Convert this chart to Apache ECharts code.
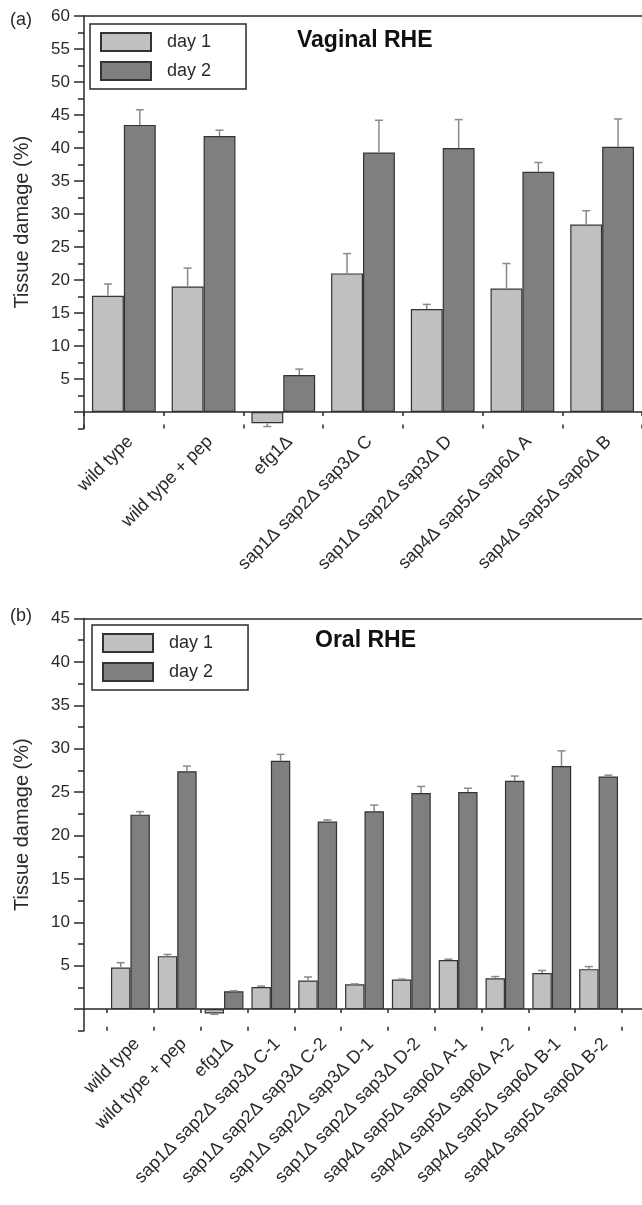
<!DOCTYPE html>
<html>
<head>
<meta charset="utf-8">
<script src="https://cdn.jsdelivr.net/npm/echarts/dist/echarts.min.js"></script>
<style>
  html, body { margin: 0; padding: 0; background: #fff; }
  #chart { width: 642px; height: 1205px; }
</style>
</head>
<body>
<div id="chart"></div>
<script>
// panel (a) - vaginal RHE
var catsA = ['wild type', 'wild type + pep', 'efg1Δ', 'sap1Δ sap2Δ sap3Δ C', 'sap1Δ sap2Δ sap3Δ D', 'sap4Δ sap5Δ sap6Δ A', 'sap4Δ sap5Δ sap6Δ B'];
var day1A = [17.6, 19.0, -1.7, 21.0, 15.6, 18.7, 28.4];
var day1ErrA = [1.8, 2.8, 0.5, 3.0, 0.7, 3.8, 2.1];
var day2A = [43.5, 41.8, 5.6, 39.3, 40.0, 36.4, 40.2];
var day2ErrA = [2.3, 0.9, 0.9, 4.9, 4.3, 1.4, 4.2];
var majorA = [0, 5, 10, 15, 20, 25, 30, 35, 40, 45, 50, 55, 60];
var minorA = [-2.5, 2.5, 7.5, 12.5, 17.5, 22.5, 27.5, 32.5, 37.5, 42.5, 47.5, 52.5, 57.5];

// panel (b) - oral RHE
var catsB = ['wild type', 'wild type + pep', 'efg1Δ',
  'sap1Δ sap2Δ sap3Δ C-1', 'sap1Δ sap2Δ sap3Δ C-2', 'sap1Δ sap2Δ sap3Δ D-1', 'sap1Δ sap2Δ sap3Δ D-2',
  'sap4Δ sap5Δ sap6Δ A-1', 'sap4Δ sap5Δ sap6Δ A-2', 'sap4Δ sap5Δ sap6Δ B-1', 'sap4Δ sap5Δ sap6Δ B-2'];
var day1B = [4.8, 6.1, -0.5, 2.55, 3.3, 2.85, 3.4, 5.65, 3.55, 4.15, 4.6];
var day1ErrB = [0.55, 0.2, 0.1, 0.1, 0.4, 0.05, 0.05, 0.1, 0.2, 0.3, 0.3];
var day2B = [22.4, 27.4, 2.05, 28.6, 21.6, 22.8, 24.9, 25.0, 26.3, 28.0, 26.8];
var day2ErrB = [0.35, 0.6, 0.05, 0.75, 0.2, 0.7, 0.75, 0.45, 0.55, 1.75, 0.15];
var majorB = [0, 5, 10, 15, 20, 25, 30, 35, 40, 45];
var minorB = [-2.5, 2.5, 7.5, 12.5, 17.5, 22.5, 27.5, 32.5, 37.5, 42.5];

var FONT = 'Liberation Sans, Arial, sans-serif';
var INK = '#2a2a2a';
var C1 = '#c0c0c0';
var C2 = '#7f7f7f';
var ERR = '#8a8a8a';

var chart = echarts.init(document.getElementById('chart'));

function frameX(grid, yIdx) {
  return [
    { type: 'value', gridIndex: grid, min: 0, max: 1, show: true,
      axisLine: { onZero: true, onZeroAxisIndex: yIdx, lineStyle: { color: INK, width: 1.5 } },
      axisTick: { show: false }, axisLabel: { show: false }, splitLine: { show: false } },
    { type: 'value', gridIndex: grid, min: 0, max: 1, position: 'top',
      axisLine: { onZero: false, lineStyle: { color: INK, width: 1.5 } },
      axisTick: { show: false }, axisLabel: { show: false }, splitLine: { show: false } }
  ];
}

function catX(grid, cats, tickIn) {
  return {
    type: 'category', gridIndex: grid, data: cats, position: 'bottom',
    axisLine: { show: false, onZero: true },
    axisTick: { show: true, interval: 0, inside: tickIn, length: 4, lineStyle: { color: INK, width: 1.5 } },
    axisLabel: tickIn ? { show: false, interval: 0 } : {
      interval: 0, rotate: 45, margin: 4, verticalAlign: 'top',
      fontSize: 18, fontFamily: FONT, color: INK, hideOverlap: false
    },
    splitLine: { show: false }
  };
}

function frameY(grid, max, major, name) {
  return {
    type: 'value', gridIndex: grid, min: -2.5, max: max, interval: 2.5, position: 'left',
    name: name, nameLocation: 'middle', nameGap: 52,
    nameTextStyle: { fontSize: 20, fontFamily: FONT, color: INK },
    axisLine: { show: true, lineStyle: { color: INK, width: 1.5 } },
    axisTick: { show: true, length: 10, customValues: major, lineStyle: { color: INK, width: 1.5 } },
    axisLabel: { customValues: major.filter(function (v) { return v > 0; }),
      fontSize: 17, fontFamily: FONT, color: INK, margin: 14 },
    splitLine: { show: false }
  };
}

function dataY(grid, max, minor, offset) {
  return {
    type: 'value', gridIndex: grid, min: -2.5, max: max, interval: 2.5, position: 'left', offset: offset,
    axisLine: { show: false },
    axisTick: { show: true, length: 6, customValues: minor, lineStyle: { color: INK, width: 1.5 } },
    axisLabel: { show: false },
    splitLine: { show: false }
  };
}

function bars(name, xIdx, yIdx, values, color, gap) {
  return {
    type: 'bar', name: name, xAxisIndex: xIdx, yAxisIndex: yIdx, data: values,
    barGap: '0%', barCategoryGap: gap, silent: true,
    itemStyle: { color: color, borderColor: '#333', borderWidth: 1.2 }
  };
}

function errBars(xIdx, yIdx, values, errs, side, gapFrac) {
  return {
    type: 'custom', name: 'err', xAxisIndex: xIdx, yAxisIndex: yIdx, z: 5, silent: true,
    data: values.map(function (v, i) { return [i, v, v + (v < 0 ? -errs[i] : errs[i])]; }),
    renderItem: function (params, api) {
      var i = api.value(0);
      var base = api.coord([i, api.value(1)]);
      var tip = api.coord([i, api.value(2)]);
      var band = api.size([1, 0])[0];
      var barW = band * (1 - gapFrac) / 2;
      var x = base[0] + side * barW / 2;
      var cap = 4;
      var st = { stroke: ERR, lineWidth: 1.5 };
      return { type: 'group', children: [
        { type: 'line', shape: { x1: x, y1: base[1], x2: x, y2: tip[1] }, style: st },
        { type: 'line', shape: { x1: x - cap, y1: tip[1], x2: x + cap, y2: tip[1] }, style: st }
      ] };
    }
  };
}

function legend(left, top) {
  return {
    left: left, top: top, orient: 'vertical', data: ['day 1', 'day 2'], selectedMode: false,
    icon: 'rect', itemWidth: 50, itemHeight: 18, itemGap: 9,
    padding: [8, 35, 8, 10], borderColor: INK, borderWidth: 1.5,
    textStyle: { fontSize: 18, fontFamily: FONT, color: INK, padding: [0, 0, 0, 11] }
  };
}

var option = {
  animation: false,
  backgroundColor: '#fff',
  title: [
    { text: '(a)', left: 10, top: 11, padding: 0, textStyle: { fontSize: 18, fontWeight: 'normal', fontFamily: FONT, color: INK } },
    { text: '(b)', left: 10, top: 607, padding: 0, textStyle: { fontSize: 18, fontWeight: 'normal', fontFamily: FONT, color: INK } },
    { text: 'Vaginal RHE', left: 297, top: 29, padding: 0, textStyle: { fontSize: 23, fontWeight: 'bold', fontFamily: FONT, color: '#111' } },
    { text: 'Oral RHE', left: 315, top: 629, padding: 0, textStyle: { fontSize: 23, fontWeight: 'bold', fontFamily: FONT, color: '#111' } }
  ],
  legend: [legend(90, 24), legend(92, 625)],
  grid: [
    { left: 84, top: 16, width: 575, height: 412.5 },
    { left: 84, top: 16, width: 560, height: 412.5 },
    { left: 84, top: 618.5, width: 575, height: 412.3 },
    { left: 107, top: 618.5, width: 515, height: 412.3 }
  ],
  xAxis: [].concat(
    frameX(0, 0),
    [catX(1, catsA, false), catX(1, catsA, true)],
    frameX(2, 2),
    [catX(3, catsB, false), catX(3, catsB, true)]
  ),
  yAxis: [
    frameY(0, 60, majorA, 'Tissue damage (%)'),
    dataY(1, 60, minorA, 0),
    frameY(2, 45, majorB, 'Tissue damage (%)'),
    dataY(3, 45, minorB, 23)
  ],
  series: [
    bars('day 1', 2, 1, day1A, C1, '20%'),
    bars('day 2', 2, 1, day2A, C2, '20%'),
    errBars(2, 1, day1A, day1ErrA, -1, 0.2),
    errBars(2, 1, day2A, day2ErrA, 1, 0.2),
    bars('day 1', 6, 3, day1B, C1, '17%'),
    bars('day 2', 6, 3, day2B, C2, '17%'),
    errBars(6, 3, day1B, day1ErrB, -1, 0.17),
    errBars(6, 3, day2B, day2ErrB, 1, 0.17)
  ]
};

chart.setOption(option);
</script>
</body>
</html>
